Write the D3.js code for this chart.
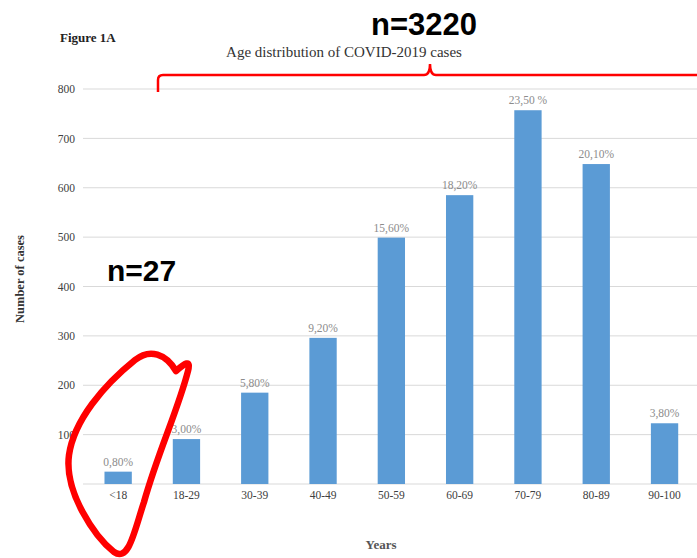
<!DOCTYPE html>
<html><head><meta charset="utf-8">
<script src="https://cdn.jsdelivr.net/npm/d3@7"></script>
<style>body{margin:0;background:#fff}svg{display:block}</style>
</head><body>
<svg id="c" width="697" height="558"></svg>
<script>
const categories = ["<18","18-29","30-39","40-49","50-59","60-69","70-79","80-89","90-100"];
const cases = [25, 91, 185, 296, 499, 585, 757, 648, 123];
const pctLabels = ["0,80%","3,00%","5,80%","9,20%","15,60%","18,20%","23,50 %","20,10%","3,80%"];
const yTicks = [100,200,300,400,500,600,700,800];

const svg = d3.select("#c");
const serif = "'Liberation Serif','Times New Roman',serif";
const sans = "'Liberation Sans',Arial,sans-serif";

const x = d3.scaleBand().domain(categories).range([84, 698.7]).paddingInner(0.6).paddingOuter(0.3);
const y = d3.scaleLinear().domain([0, 800]).range([484, 89]);

// gridlines
svg.append("g").selectAll("line").data([0, ...yTicks]).join("line")
  .attr("x1", 83).attr("x2", 697).attr("y1", d => y(d)).attr("y2", d => y(d))
  .attr("stroke", "#d9d9d9").attr("stroke-width", 1);

// y axis labels
const yAxis = d3.axisLeft(y).tickValues(yTicks).tickSize(0).tickPadding(0);
const gy = svg.append("g").attr("transform", "translate(75,0)").call(yAxis);
gy.select(".domain").remove();
gy.selectAll("text").attr("font-family", serif).attr("font-size", 11.5).attr("fill", "#404040");

// x axis labels
const xAxis = d3.axisBottom(x).tickSize(0).tickPadding(0);
const gx = svg.append("g").attr("transform", "translate(0,491)").call(xAxis);
gx.select(".domain").remove();
gx.selectAll("text").attr("font-family", serif).attr("font-size", 11.5).attr("fill", "#404040");

// bars
svg.append("g").selectAll("rect").data(cases).join("rect")
  .attr("x", (d, i) => x(categories[i])).attr("width", x.bandwidth())
  .attr("y", d => y(d)).attr("height", d => y(0) - y(d))
  .attr("fill", "#5b9bd5");

// percent labels
svg.append("g").selectAll("text").data(cases).join("text")
  .attr("x", (d, i) => x(categories[i]) + x.bandwidth() / 2)
  .attr("y", d => y(d) - 6)
  .attr("text-anchor", "middle").attr("font-family", serif).attr("font-size", 11.5)
  .attr("fill", "#8c8c8c").text((d, i) => pctLabels[i]);

// titles
svg.append("text").attr("x", 60).attr("y", 42).attr("font-family", serif)
  .attr("font-size", 13).attr("font-weight", "bold").attr("fill", "#222").text("Figure 1A");
svg.append("text").attr("x", 344).attr("y", 57).attr("text-anchor", "middle").attr("font-family", serif)
  .attr("font-size", 15).attr("fill", "#333").text("Age distribution of COVID-2019 cases");
svg.append("text").attr("transform", "translate(24,279) rotate(-90)").attr("text-anchor", "middle")
  .attr("font-family", serif).attr("font-size", 12.5).attr("font-weight", "bold").attr("fill", "#333").text("Number of cases");
svg.append("text").attr("x", 381).attr("y", 549).attr("text-anchor", "middle").attr("font-family", serif)
  .attr("font-size", 13).attr("font-weight", "bold").attr("fill", "#555").text("Years");

// annotations
svg.append("text").attr("x", 424).attr("y", 35).attr("text-anchor", "middle").attr("font-family", sans)
  .attr("font-size", 31).attr("font-weight", "bold").attr("fill", "#000").text("n=3220");
svg.append("text").attr("x", 107).attr("y", 281).attr("font-family", sans)
  .attr("font-size", 30).attr("font-weight", "bold").attr("fill", "#000").text("n=27");

svg.append("path")
  .attr("d", "M158,92 L158,80 Q158,75 163,75 L424,75 Q430,75 430,64 Q430,75 436,75 L699,75")
  .attr("fill", "none").attr("stroke", "#ff0000").attr("stroke-width", 2.5);

svg.append("path")
  .attr("d", "M176,371 C166,354 150,348 135,360 C104,385 74,420 69,455 C64,492 95,537 114,552 C129,562 134,532 144,502 C158,452 178,410 188,371 C191,359 185,363 176,371 Z")
  .attr("fill", "none").attr("stroke", "#ff0000").attr("stroke-width", 6.5).attr("stroke-linejoin", "round");
</script>
</body></html>
